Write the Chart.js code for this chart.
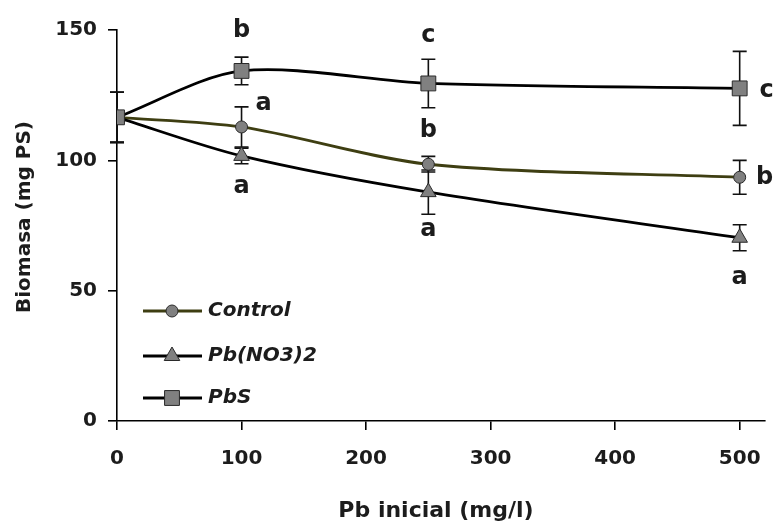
<!DOCTYPE html>
<html>
<head>
<meta charset="utf-8">
<script src="https://cdn.jsdelivr.net/npm/chart.js@4.4.1/dist/chart.umd.min.js"></script>
<style>
  html, body { margin: 0; padding: 0; background: #fff; }
  #wrap { width: 778px; height: 526px; }
</style>
</head>
<body>
<div id="wrap"><canvas id="biomasaChart" width="778" height="526"></canvas></div>
<script>
// Pb inicial (mg/l)
const pbLevels = [0, 100, 250, 500];

// Biomasa (mg PS), means and +/- error
const controlMeans = [116.5, 112.8, 98.5, 93.5];
const controlErrors = [9.6, 7.7, 3.0, 6.5];
const nitrateMeans = [116.5, 101.7, 87.8, 70.3];
const nitrateErrors = [9.6, 3.0, 8.5, 5.0];
const pbsMeans = [116.5, 134.3, 129.5, 127.6];
const pbsErrors = [9.6, 5.3, 9.3, 14.2];

// significance letters
const controlLetters = ["", "a", "b", "b"];
const nitrateLetters = ["", "a", "a", "a"];
const pbsLetters = ["", "b", "c", "c"];

const xTicks = [0, 100, 200, 300, 400, 500];
const yTicks = [0, 50, 100, 150];

const FONT = "'DejaVu Sans', sans-serif";
const TEXT = "#1c1c1c";

function toPoints(means) {
  return pbLevels.map((x, i) => ({ x: x, y: means[i] }));
}

/*****************************************************
 * error bars => drawn under the markers
 *****************************************************/
const errorBarsPlugin = {
  id: "errorBars",
  beforeDatasetsDraw(chart) {
    const ctx = chart.ctx;
    const xs = chart.scales.x;
    const ys = chart.scales.y;
    ctx.save();
    ctx.strokeStyle = "#111";
    ctx.lineWidth = 1.6;
    chart.data.datasets.forEach(ds => {
      ds.data.forEach((pt, i) => {
        const err = ds.errors[i];
        if (!err) return;
        const px = xs.getPixelForValue(pt.x);
        const top = ys.getPixelForValue(pt.y + err);
        const bot = ys.getPixelForValue(pt.y - err);
        ctx.beginPath();
        ctx.moveTo(px, top); ctx.lineTo(px, bot);
        ctx.moveTo(px - 7, top); ctx.lineTo(px + 7, top);
        ctx.moveTo(px - 7, bot); ctx.lineTo(px + 7, bot);
        ctx.stroke();
      });
    });
    ctx.restore();
  }
};

/*****************************************************
 * letters, legend, axis titles
 *****************************************************/
const annotationsPlugin = {
  id: "annotations",
  afterDraw(chart) {
    const ctx = chart.ctx;
    const xs = chart.scales.x;
    const ys = chart.scales.y;
    ctx.save();

    // letters next to each point (dx, dy in px from the marker)
    ctx.fillStyle = TEXT;
    ctx.font = "bold 24px " + FONT;
    ctx.textAlign = "center";
    ctx.textBaseline = "middle";
    const placements = {
      pbs: [null, [0, -40], [0, -48], [27, 2]],
      control: [null, [22, -23], [0, -33], [25, 0]],
      nitrate: [null, [0, 31], [0, 38], [0, 40]]
    };
    chart.data.datasets.forEach(ds => {
      ds.letters.forEach((letter, i) => {
        if (!letter) return;
        const off = placements[ds.key][i];
        const px = xs.getPixelForValue(ds.data[i].x) + off[0];
        const py = ys.getPixelForValue(ds.data[i].y) + off[1];
        ctx.fillText(letter, px, py);
      });
    });

    // legend inside the plot
    const legendRows = [
      { label: "Control", ds: chart.data.datasets[2], y: 311 },
      { label: "Pb(NO3)2", ds: chart.data.datasets[1], y: 356 },
      { label: "PbS", ds: chart.data.datasets[0], y: 398 }
    ];
    legendRows.forEach(row => {
      const ds = row.ds;
      ctx.strokeStyle = ds.borderColor;
      ctx.lineWidth = 2.8;
      ctx.beginPath();
      ctx.moveTo(143, row.y);
      ctx.lineTo(202, row.y);
      ctx.stroke();
      ctx.fillStyle = ds.pointBackgroundColor;
      ctx.strokeStyle = ds.pointBorderColor;
      ctx.lineWidth = 1;
      Chart.helpers.drawPoint(ctx, {
        pointStyle: ds.pointStyle,
        radius: ds.pointRadius,
        rotation: 0,
        borderWidth: 1
      }, 172, row.y);
      ctx.fillStyle = TEXT;
      ctx.font = "italic bold 20px " + FONT;
      ctx.textAlign = "left";
      ctx.textBaseline = "middle";
      ctx.fillText(row.label, 208, row.y);
    });

    // axis titles
    ctx.fillStyle = TEXT;
    ctx.font = "bold 22px " + FONT;
    ctx.textAlign = "center";
    ctx.textBaseline = "middle";
    ctx.fillText("Pb inicial (mg/l)", 436, 511);

    ctx.translate(25, 217);
    ctx.rotate(-Math.PI / 2);
    ctx.font = "bold 20px " + FONT;
    ctx.fillText("Biomasa (mg PS)", 0, 0);
    ctx.restore();
  }
};

const markerFill = "#808080";
const markerEdge = "#2a2a2a";

const chartCtx = document.getElementById("biomasaChart").getContext("2d");
new Chart(chartCtx, {
  type: "line",
  data: {
    datasets: [
      {
        key: "pbs",
        label: "PbS",
        data: toPoints(pbsMeans),
        errors: pbsErrors,
        letters: pbsLetters,
        borderColor: "#000",
        borderWidth: 2.8,
        pointStyle: "rect",
        pointRadius: 10.5,
        pointBackgroundColor: markerFill,
        pointBorderColor: markerEdge,
        pointBorderWidth: 1,
        tension: 0.3,
        order: 0
      },
      {
        key: "nitrate",
        label: "Pb(NO3)2",
        data: toPoints(nitrateMeans),
        errors: nitrateErrors,
        letters: nitrateLetters,
        borderColor: "#000",
        borderWidth: 2.8,
        pointStyle: "triangle",
        pointRadius: 9,
        pointBackgroundColor: markerFill,
        pointBorderColor: markerEdge,
        pointBorderWidth: 1,
        tension: 0.3,
        order: 1
      },
      {
        key: "control",
        label: "Control",
        data: toPoints(controlMeans),
        errors: controlErrors,
        letters: controlLetters,
        borderColor: "#3e3e12",
        borderWidth: 2.8,
        pointStyle: "circle",
        pointRadius: 6,
        pointBackgroundColor: markerFill,
        pointBorderColor: markerEdge,
        pointBorderWidth: 1,
        tension: 0.3,
        order: 2
      }
    ]
  },
  options: {
    responsive: false,
    animation: false,
    devicePixelRatio: 1,
    layout: { padding: { top: 30, right: 10, left: 0, bottom: 0 } },
    plugins: {
      legend: { display: false },
      tooltip: { enabled: false }
    },
    scales: {
      x: {
        type: "linear",
        min: 0,
        max: 520,
        afterFit: (scale) => { scale.height = 105; },
        afterBuildTicks: (scale) => { scale.ticks = xTicks.map(v => ({ value: v })); },
        border: { display: true, color: "#000", width: 1.6 },
        grid: { drawOnChartArea: false, drawTicks: true, tickLength: 9, color: "#000", lineWidth: 1.6 },
        ticks: { color: TEXT, font: { family: FONT, size: 20, weight: "bold" }, padding: 17, maxRotation: 0 }
      },
      y: {
        type: "linear",
        min: 0,
        max: 150,
        afterFit: (scale) => { scale.width = 117; },
        afterBuildTicks: (scale) => { scale.ticks = yTicks.map(v => ({ value: v })); },
        border: { display: true, color: "#000", width: 1.6 },
        grid: { drawOnChartArea: false, drawTicks: true, tickLength: 9, color: "#000", lineWidth: 1.6 },
        ticks: { color: TEXT, font: { family: FONT, size: 20, weight: "bold" }, padding: 11 }
      }
    }
  },
  plugins: [errorBarsPlugin, annotationsPlugin]
});
</script>
</body>
</html>
